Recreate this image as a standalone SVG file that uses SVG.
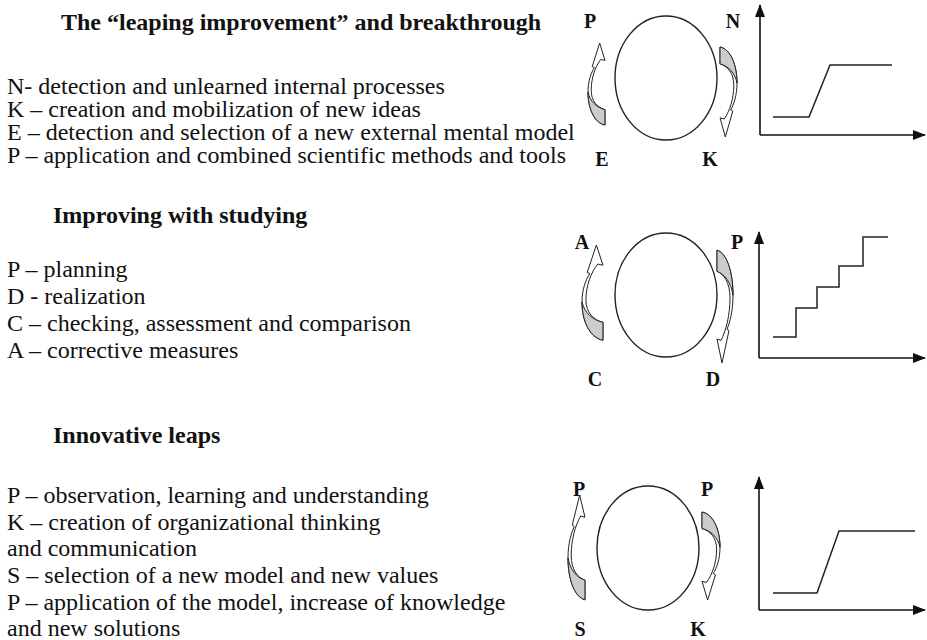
<svg xmlns="http://www.w3.org/2000/svg" xmlns:xlink="http://www.w3.org/1999/xlink" width="927" height="640" viewBox="0 0 927 640">
  <style>
    .t { font-family: "Liberation Serif", "Times New Roman", serif; font-size: 24px; fill: #111; }
    .h { font-family: "Liberation Serif", "Times New Roman", serif; font-size: 24px; font-weight: bold; fill: #111; }
    .lbl { font-family: "Liberation Serif", "Times New Roman", serif; font-size: 20px; font-weight: bold; fill: #111; text-anchor: middle; }
    .cyc { fill: none; stroke: #222; stroke-width: 1.4; }
    .ax { fill: none; stroke: #111; stroke-width: 1.6; }
    .st { fill: none; stroke: #222; stroke-width: 1.5; }
    .arw { fill: #fff; stroke: #222; stroke-width: 1; }
    .arwg { fill: #ccc; stroke: #222; stroke-width: 1; }
  </style>
  <defs>
    <marker id="ah" viewBox="0 0 13 10" refX="12" refY="5" markerWidth="13" markerHeight="10" markerUnits="userSpaceOnUse" orient="auto">
      <path d="M0,0 L13,5 L0,10 Z" fill="#111"/>
    </marker>
    <g id="carrow">
      <path class="arw" d="M16,80 C6,78 0,64 0,48 C0,37 3,29 6,24 L4,23 L11,0 L16,17 L12,16 C7,23 3,34 3,46 C3,57 9,63 16,65 Z" vector-effect="non-scaling-stroke"/>
      <path class="arwg" d="M16,80 C6,78 0,64 0,48 C2,57 8,63 16,65 Z" vector-effect="non-scaling-stroke"/>
    </g>
  </defs>

  <!-- Section 1 text -->
  <g id="text-leaping">
    <text class="h" x="61" y="30">The “leaping improvement” and breakthrough</text>
    <text class="t" x="7" y="94">N- detection and unlearned internal processes</text>
    <text class="t" x="7" y="117">K – creation and mobilization of new ideas</text>
    <text class="t" x="7" y="140">E – detection and selection of a new external mental model</text>
    <text class="t" x="7" y="163">P – application and combined scientific methods and tools</text>
  </g>

  <!-- Section 2 text -->
  <g id="text-studying">
    <text class="h" x="53" y="223">Improving with studying</text>
    <text class="t" x="7" y="277">P – planning</text>
    <text class="t" x="7" y="304">D - realization</text>
    <text class="t" x="7" y="331">C – checking, assessment and comparison</text>
    <text class="t" x="7" y="358">A – corrective measures</text>
  </g>

  <!-- Section 3 text -->
  <g id="text-innovative">
    <text class="h" x="53" y="443">Innovative leaps</text>
    <text class="t" x="7" y="503">P – observation, learning and understanding</text>
    <text class="t" x="7" y="530">K – creation of organizational thinking</text>
    <text class="t" x="7" y="556">and communication</text>
    <text class="t" x="7" y="583">S – selection of a new model and new values</text>
    <text class="t" x="7" y="610">P – application of the model, increase of knowledge</text>
    <text class="t" x="7" y="636">and new solutions</text>
  </g>

  <!-- Cycle 1 -->
  <g id="cycle-leaping">
    <ellipse class="cyc" cx="666" cy="78" rx="51" ry="62"/>
    <text class="lbl" x="590" y="28">P</text>
    <text class="lbl" x="733" y="28">N</text>
    <text class="lbl" x="602" y="166">E</text>
    <text class="lbl" x="710" y="166">K</text>
  </g>
  <!-- Cycle 2 -->
  <g id="cycle-studying">
    <ellipse class="cyc" cx="666" cy="295" rx="51" ry="62"/>
    <text class="lbl" x="582" y="249">A</text>
    <text class="lbl" x="737" y="249">P</text>
    <text class="lbl" x="595" y="386">C</text>
    <text class="lbl" x="713" y="386">D</text>
  </g>
  <!-- Cycle 3 -->
  <g id="cycle-innovative">
    <ellipse class="cyc" cx="648" cy="548" rx="51" ry="62"/>
    <text class="lbl" x="579" y="496">P</text>
    <text class="lbl" x="707" y="496">P</text>
    <text class="lbl" x="580" y="636">S</text>
    <text class="lbl" x="698" y="636">K</text>
  </g>

  <!-- Curved cycle arrows -->
  <g id="connectors">
    <use xlink:href="#carrow" href="#carrow" transform="translate(588,43) scale(1.06,1.025)"/>
    <use xlink:href="#carrow" href="#carrow" transform="translate(737,137) scale(-1.06,-1.125)"/>
    <use xlink:href="#carrow" href="#carrow" transform="translate(582,245) scale(1.31,1.19)"/>
    <use xlink:href="#carrow" href="#carrow" transform="translate(733,363) scale(-1,-1.41)"/>
    <use xlink:href="#carrow" href="#carrow" transform="translate(568,495) scale(1.06,1.31)"/>
    <use xlink:href="#carrow" href="#carrow" transform="translate(720,600) scale(-1.125,-1.1)"/>
  </g>

  <!-- Graph 1 -->
  <g id="graph-leaping">
    <line class="ax" x1="760" y1="135" x2="760" y2="5" marker-end="url(#ah)"/>
    <line class="ax" x1="760" y1="135" x2="925" y2="135" marker-end="url(#ah)"/>
    <polyline class="st" points="773,117 809,117 830,65 892,65"/>
  </g>
  <!-- Graph 2 -->
  <g id="graph-studying">
    <line class="ax" x1="759" y1="358" x2="759" y2="232" marker-end="url(#ah)"/>
    <line class="ax" x1="759" y1="358" x2="925" y2="358" marker-end="url(#ah)"/>
    <polyline class="st" points="773,337 796,337 796,308 817,308 817,287 839,287 839,266 863,266 863,237 888,237"/>
  </g>
  <!-- Graph 3 -->
  <g id="graph-innovative">
    <line class="ax" x1="759" y1="610" x2="759" y2="477" marker-end="url(#ah)"/>
    <line class="ax" x1="759" y1="610" x2="925" y2="610" marker-end="url(#ah)"/>
    <polyline class="st" points="773,593 817,593 839,531 915,531"/>
  </g>
</svg>
